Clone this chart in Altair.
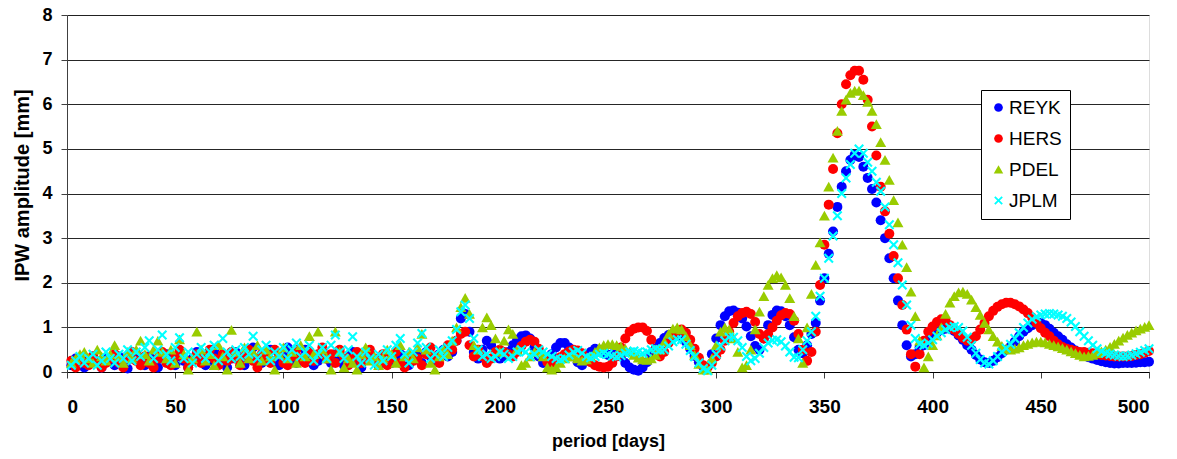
import altair as alt
import pandas as pd

# sampled periods (days)
PERIOD = list(range(2, 501, 2))

REYK = [
    0.15, 0.3, 0.2, 0.1, 0.25, 0.35, 0.2, 0.1, 0.3, 0.25,
    0.15, 0.35, 0.2, 0.08, 0.3, 0.4, 0.2, 0.15, 0.35, 0.25,
    0.1, 0.3, 0.4, 0.2, 0.15, 0.35, 0.25, 0.1, 0.3, 0.45,
    0.3, 0.15, 0.25, 0.5, 0.35, 0.2, 0.1, 0.3, 0.45, 0.3,
    0.15, 0.4, 0.55, 0.3, 0.2, 0.45, 0.5, 0.25, 0.15, 0.35,
    0.55, 0.4, 0.2, 0.3, 0.5, 0.35, 0.15, 0.25, 0.45, 0.3,
    0.2, 0.4, 0.3, 0.15, 0.35, 0.45, 0.25, 0.1, 0.3, 0.4,
    0.25, 0.15, 0.35, 0.3, 0.2, 0.25, 0.4, 0.35, 0.15, 0.3,
    0.35, 0.2, 0.45, 0.35, 0.25, 0.4, 0.5, 0.35, 0.45, 0.7,
    1.2, 1.3, 0.9, 0.45, 0.3, 0.5, 0.7, 0.6, 0.35, 0.3,
    0.35, 0.45, 0.6, 0.72, 0.8, 0.82, 0.75, 0.55, 0.35, 0.2,
    0.25, 0.4, 0.55, 0.65, 0.65, 0.55, 0.38, 0.22, 0.15, 0.25,
    0.45, 0.52, 0.5, 0.42, 0.38, 0.4, 0.42, 0.35, 0.2, 0.1,
    0.05, 0.03, 0.1, 0.22, 0.38, 0.52, 0.65, 0.76, 0.83, 0.86,
    0.85, 0.8, 0.68, 0.52, 0.36, 0.22, 0.12, 0.12, 0.4, 0.75,
    1.05, 1.25, 1.36, 1.38, 1.33, 1.2, 1.02, 0.8, 0.58, 0.5,
    0.75, 1.05, 1.28, 1.38, 1.36, 1.25, 1.05, 0.78, 0.5, 0.42,
    0.6, 0.85, 1.1, 1.6, 2.1, 2.65, 3.15, 3.7, 4.15, 4.5,
    4.75, 4.87, 4.82, 4.6, 4.35, 4.1, 3.8, 3.4, 3.0, 2.55,
    2.1, 1.6, 1.05, 0.6, 0.35, 0.4, 0.55, 0.6, 0.7, 0.8,
    0.88, 0.94, 0.97, 0.97, 0.92, 0.82, 0.72, 0.6, 0.5, 0.38,
    0.28, 0.22, 0.2, 0.25, 0.33, 0.42, 0.5, 0.57, 0.68, 0.8,
    0.9, 0.98, 1.05, 1.1, 1.1, 1.05, 0.97, 0.88, 0.8, 0.72,
    0.62, 0.55, 0.48, 0.42, 0.37, 0.33, 0.3, 0.27, 0.24, 0.22,
    0.2, 0.19, 0.19, 0.2, 0.2, 0.2, 0.21, 0.22, 0.22, 0.23,
]

HERS = [
    0.25, 0.1, 0.3, 0.2, 0.15, 0.35, 0.25, 0.1, 0.2, 0.3,
    0.4, 0.2, 0.1, 0.3, 0.45, 0.25, 0.15, 0.35, 0.2, 0.1,
    0.3, 0.45, 0.2, 0.15, 0.35, 0.5, 0.3, 0.1, 0.25, 0.4,
    0.2, 0.35, 0.5, 0.3, 0.15, 0.4, 0.25, 0.45, 0.3, 0.15,
    0.35, 0.5, 0.25, 0.1, 0.4, 0.3, 0.2, 0.5, 0.4, 0.2,
    0.15, 0.35, 0.5, 0.3, 0.2, 0.45, 0.25, 0.4, 0.55, 0.3,
    0.4, 0.2, 0.5, 0.35, 0.15, 0.3, 0.45, 0.2, 0.35, 0.5,
    0.3, 0.2, 0.4, 0.15, 0.3, 0.45, 0.2, 0.1, 0.35, 0.25,
    0.3, 0.15, 0.4, 0.55, 0.35, 0.2, 0.45, 0.6, 0.5, 0.7,
    0.85, 0.9, 0.6, 0.35, 0.5, 0.35, 0.2, 0.3, 0.45, 0.5,
    0.45, 0.4, 0.35, 0.45, 0.58, 0.68, 0.72, 0.68, 0.52, 0.35,
    0.22, 0.2, 0.25, 0.33, 0.4, 0.46, 0.5, 0.48, 0.42, 0.32,
    0.22, 0.15, 0.12, 0.1, 0.12, 0.2, 0.35, 0.55, 0.75, 0.9,
    0.97, 1.0, 1.0, 0.92, 0.72, 0.5, 0.35, 0.45, 0.65, 0.82,
    0.92, 0.95, 0.88, 0.72, 0.52, 0.32, 0.15, 0.1, 0.2, 0.35,
    0.5, 0.7, 0.9, 1.1, 1.25, 1.32, 1.35, 1.3, 1.12, 0.85,
    0.75, 0.85, 1.0, 1.15, 1.27, 1.32, 1.3, 1.15, 0.85, 0.5,
    0.25, 0.45, 0.9, 1.95, 2.85, 3.75, 4.55, 5.35, 6.0, 6.45,
    6.65, 6.75, 6.75, 6.55, 6.1, 5.5, 4.85, 4.15, 3.6, 3.1,
    2.6, 2.1, 1.5, 0.95, 0.4, 0.12, 0.4, 0.7, 0.9, 1.02,
    1.12, 1.18, 1.15, 1.05, 0.95, 0.85, 0.76, 0.7, 0.72, 0.8,
    0.95, 1.1, 1.25, 1.37, 1.46, 1.52, 1.55, 1.55, 1.52, 1.47,
    1.4, 1.32, 1.22, 1.1, 0.98, 0.88, 0.8, 0.7, 0.62, 0.56,
    0.52, 0.5, 0.47, 0.45, 0.45, 0.43, 0.42, 0.4, 0.38, 0.37,
    0.36, 0.35, 0.35, 0.35, 0.35, 0.36, 0.38, 0.4, 0.43, 0.47,
]

PDEL = [
    0.2, 0.3, 0.4, 0.45, 0.3, 0.2, 0.5, 0.35, 0.25, 0.4,
    0.6, 0.35, 0.2, 0.45, 0.3, 0.5, 0.7, 0.4, 0.25, 0.5,
    0.7, 0.45, 0.3, 0.5, 0.2, 0.73, 0.4, 0.05, 0.3, 0.9,
    0.5, 0.25, 0.4, 0.15, 0.6, 0.35, 0.05, 0.94, 0.45, 0.2,
    0.55, 0.3, 0.45, 0.6, 0.25, 0.5, 0.35, 0.05, 0.4, 0.55,
    0.3, 0.45, 0.2, 0.6, 0.35, 0.8, 0.4, 0.9, 0.5, 0.3,
    0.05, 0.9, 0.45, 0.1, 0.3, 0.2, 0.05, 0.4, 0.55, 0.25,
    0.35, 0.15, 0.3, 0.5, 0.4, 0.2, 0.6, 0.35, 0.45, 0.3,
    0.55, 0.85, 0.5, 0.2, 0.05, 0.35, 0.5, 0.4, 0.7, 1.0,
    1.45, 1.66, 1.3, 0.6, 0.5, 1.0, 1.22, 1.05, 0.75, 0.45,
    0.7, 0.95, 0.85, 0.5, 0.15, 0.2, 0.35, 0.45, 0.45, 0.35,
    0.1, 0.05, 0.1, 0.2, 0.3, 0.35, 0.35, 0.3, 0.25, 0.28,
    0.35, 0.45, 0.55, 0.6, 0.62, 0.62, 0.6, 0.57, 0.52, 0.45,
    0.38, 0.32, 0.28, 0.27, 0.3, 0.38, 0.5, 0.68, 0.85, 0.97,
    1.0, 0.95, 0.8, 0.6, 0.38, 0.18, 0.05, 0.05, 0.3, 0.6,
    0.9, 1.0, 0.95, 0.75, 0.45, 0.1, 0.15, 0.5, 0.95, 1.35,
    1.7, 1.95, 2.1, 2.17, 2.12, 1.95, 1.65, 1.25, 0.75, 0.2,
    1.0, 1.75, 2.4, 2.9, 3.5, 4.15, 4.8, 5.4, 5.85, 6.1,
    6.25, 6.3, 6.3, 6.2, 6.05, 5.85, 5.55, 5.15, 4.75, 4.3,
    3.85, 3.35, 2.85, 2.35, 1.8, 1.25, 0.7, 0.1, 0.35, 0.6,
    0.82, 1.0, 1.3, 1.55, 1.7, 1.78, 1.8, 1.75, 1.62, 1.45,
    1.28, 1.1, 0.95, 0.8, 0.68, 0.58, 0.52, 0.5, 0.52, 0.55,
    0.6, 0.63, 0.66, 0.68, 0.68, 0.66, 0.63, 0.6, 0.57, 0.53,
    0.5, 0.46, 0.42, 0.38, 0.35, 0.36, 0.38, 0.42, 0.46, 0.5,
    0.56, 0.63, 0.7, 0.77, 0.83, 0.88, 0.93, 0.97, 1.01, 1.05,
]

JPLM = [
    0.15, 0.25, 0.35, 0.2, 0.3, 0.4, 0.15, 0.25, 0.45, 0.3,
    0.2, 0.4, 0.3, 0.5, 0.25, 0.45, 0.35, 0.55, 0.7, 0.3,
    0.5, 0.83, 0.4, 0.25, 0.55, 0.77, 0.3, 0.45, 0.2, 0.4,
    0.55, 0.3, 0.45, 0.6, 0.25, 0.75, 0.45, 0.3, 0.5, 0.35,
    0.55, 0.4, 0.8, 0.3, 0.5, 0.6, 0.25, 0.45, 0.35, 0.55,
    0.3, 0.5, 0.65, 0.35, 0.45, 0.6, 0.25, 0.4, 0.55, 0.3,
    0.6, 0.83, 0.45, 0.3, 0.5, 0.79, 0.35, 0.2, 0.45, 0.3,
    0.15, 0.4, 0.25, 0.5, 0.35, 0.6, 0.75, 0.4, 0.2, 0.45,
    0.65, 0.86, 0.55, 0.3, 0.4, 0.5, 0.35, 0.55, 0.7, 0.95,
    1.35, 1.5, 1.2, 0.75, 0.5, 0.35, 0.4, 0.3, 0.35, 0.45,
    0.4, 0.3, 0.35, 0.45, 0.5, 0.45, 0.35, 0.4, 0.5, 0.45,
    0.4, 0.35, 0.3, 0.28, 0.3, 0.38, 0.45, 0.48, 0.42, 0.35,
    0.32, 0.35, 0.4, 0.42, 0.4, 0.36, 0.34, 0.37, 0.42, 0.45,
    0.47, 0.45, 0.42, 0.45, 0.5, 0.52, 0.5, 0.5, 0.58, 0.68,
    0.73, 0.72, 0.62, 0.48, 0.34, 0.2, 0.08, 0.03, 0.15, 0.4,
    0.58, 0.7, 0.78, 0.78, 0.7, 0.55, 0.35, 0.25, 0.3, 0.42,
    0.55, 0.65, 0.71, 0.72, 0.68, 0.58, 0.45, 0.33, 0.32, 0.5,
    0.7, 0.9, 1.25, 1.7, 2.1, 2.55, 3.05, 3.5, 4.0, 4.35,
    4.65, 4.9, 5.0, 4.9, 4.7, 4.5, 4.25, 4.05, 3.7, 3.3,
    2.85, 2.45, 1.95, 1.5, 1.05, 0.75, 0.62, 0.6, 0.65, 0.72,
    0.8, 0.88, 0.95, 1.0, 1.02, 1.0, 0.92, 0.78, 0.6, 0.42,
    0.28, 0.2, 0.18, 0.25, 0.35, 0.45, 0.53, 0.62, 0.75, 0.88,
    1.0, 1.1, 1.18, 1.24, 1.28, 1.3, 1.31, 1.3, 1.28, 1.25,
    1.2, 1.12, 1.02, 0.9, 0.8, 0.7, 0.6, 0.52, 0.46, 0.42,
    0.4, 0.38, 0.36, 0.35, 0.36, 0.38, 0.41, 0.44, 0.48, 0.52,
]

STATIONS = ["REYK", "HERS", "PDEL", "JPLM"]
COLORS = ["#0000FF", "#FF0000", "#99CC00", "#00FFFF"]
X_TICKS = list(range(0, 501, 50))
Y_TICKS = list(range(0, 9))

TRIANGLE = "M0,-1 L1.1,0.95 L-1.1,0.95 Z"
XMARK = ("M-0.7,-1 L0,-0.3 L0.7,-1 L1,-0.7 L0.3,0 L1,0.7 "
         "L0.7,1 L0,0.3 L-0.7,1 L-1,0.7 L-0.3,0 L-1,-0.7 Z")
SHAPES = ["circle", "circle", TRIANGLE, XMARK]

rows = []
for name, vals in zip(STATIONS, [REYK, HERS, PDEL, JPLM]):
    for p, v in zip(PERIOD, vals):
        rows.append({"period": p, "amp": v, "station": name})
df = pd.DataFrame(rows)

FONT = "Liberation Sans"

legend = alt.Legend(
    title=None, orient="none", legendX=914, legendY=75,
    padding=8, strokeColor="black", fillColor="white", cornerRadius=0,
    labelFont=FONT, labelFontSize=19, labelColor="black",
    symbolSize=75, labelOffset=1, rowPadding=11, symbolStrokeWidth=0,
)

chart = alt.Chart(df).mark_point(filled=True, size=100, opacity=1, strokeWidth=0).encode(
    x=alt.X("period:Q",
            scale=alt.Scale(domain=[0, 500], nice=False, zero=False),
            axis=alt.Axis(values=X_TICKS, title="period [days]", grid=False,
                          labelFont=FONT, labelFontSize=19, labelFontWeight="bold",
                          labelColor="black", labelPadding=19, tickSize=6,
                          tickColor="#404040", domainColor="black",
                          titleFont=FONT, titleFontSize=18, titleFontWeight="bold",
                          titleColor="black", titleY=74, titleBaseline="alphabetic")),
    y=alt.Y("amp:Q",
            scale=alt.Scale(domain=[0, 8], nice=False),
            axis=alt.Axis(values=Y_TICKS, title="IPW amplitude [mm]", grid=True,
                          gridColor="black", gridOpacity=0.85, gridWidth=1,
                          labelFont=FONT, labelFontSize=18, labelFontWeight="bold",
                          labelColor="black", labelPadding=9, tickSize=6,
                          tickColor="#404040", domainColor="#404040",
                          titleFont=FONT, titleFontSize=20, titleFontWeight="bold",
                          titleColor="black", titleX=-35, titleY=170)),
    color=alt.Color("station:N", scale=alt.Scale(domain=STATIONS, range=COLORS), legend=legend),
    shape=alt.Shape("station:N", scale=alt.Scale(domain=STATIONS, range=SHAPES), legend=legend),
).properties(
    width=1082, height=357,
    padding={"left": 59, "top": 7, "right": 20, "bottom": 79},
    autosize=alt.AutoSizeParams(type="none"),
).configure_view(
    stroke="#808080", strokeWidth=1
).configure(background="white")

chart.save("out.html", embed_options={"renderer": "svg", "actions": False})
